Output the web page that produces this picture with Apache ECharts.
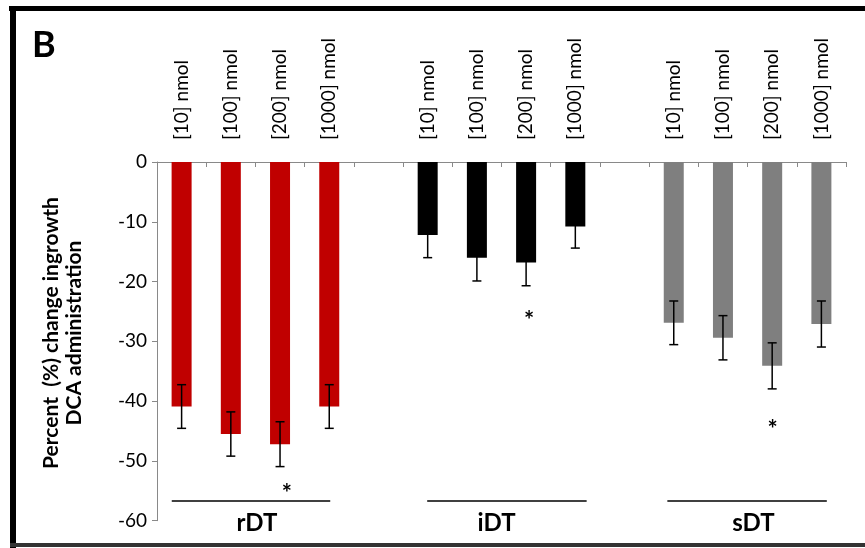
<!DOCTYPE html>
<html>
<head>
<meta charset="utf-8">
<script src="https://cdn.jsdelivr.net/npm/echarts@6/dist/echarts.min.js"></script>
<style>
html,body{margin:0;padding:0;background:#fff;}
#chart{width:865px;height:548px;}
</style>
</head>
<body>
<div id="chart"></div>
<script>
// ---- data ----
const categories = ['[10] nmol','[100] nmol','[200] nmol','[1000] nmol','',
                    '[10] nmol','[100] nmol','[200] nmol','[1000] nmol','',
                    '[10] nmol','[100] nmol','[200] nmol','[1000] nmol'];
const groupNames = ['rDT','iDT','sDT'];
const groupStart = [0, 5, 10];
const rDT = [-40.9, -45.5, -47.2, -40.9];
const iDT = [-12.2, -16.0, -16.8, -10.8];
const sDT = [-26.9, -29.4, -34.1, -27.1];
const rDTErr = [3.65, 3.7, 3.75, 3.65];
const iDTErr = [3.8, 3.9, 3.9, 3.6];
const sDTErr = [3.65, 3.7, 3.85, 3.85];
const yTicks = [0, -10, -20, -30, -40, -50, -60];
// annotations (in category-index / value units)
const groupLineFrom = [-0.2, 4.99, 9.87];
const groupLineTo = [3.02, 8.23, 13.11];
const groupLineValue = -56.7;
const groupLabelPos = [1.53, 6.40, 11.62];
const groupLabelValue = -60.4;
const starPos = [2.14, 7.06, 12.01];
const starValue = [-54.5, -25.7, -43.8];
const yTitle = 'Percent  (%) change ingrowth\nDCA administration';

// ---- build ----
const groupVals = [rDT, iDT, sDT];
const groupErrs = [rDTErr, iDTErr, sDTErr];
const groupColors = ['#C00000', '#000000', '#7F7F7F'];

function slotData(g){
  return categories.map((c, i) => {
    const k = i - groupStart[g];
    return (k >= 0 && k < groupVals[g].length) ? groupVals[g][k] : '-';
  });
}
const errData = [];
groupVals.forEach((vals, g) => vals.forEach((v, k) => errData.push([groupStart[g] + k, v, groupErrs[g][k]])));

const FONT = 'Lato, "Open Sans", sans-serif';
const chart = echarts.init(document.getElementById('chart'), null, {renderer: 'canvas'});

const series = groupNames.map((name, g) => ({
  name, type: 'bar', xAxisIndex: 0, yAxisIndex: 0,
  data: slotData(g), barWidth: 20, barGap: '-100%',
  itemStyle: {color: groupColors[g]}, silent: true, animation: false
}));

series.push({
  type: 'custom', xAxisIndex: 0, yAxisIndex: 0, data: errData, animation: false, silent: true, z: 10,
  renderItem(params, api){
    const x = api.value(0), v = api.value(1), e = api.value(2);
    const top = api.coord([x, v + e]);
    const bot = api.coord([x, v - e]);
    const cx = top[0], hw = 4.5;
    const st = {stroke: '#000', lineWidth: 1.5};
    return {type: 'group', children: [
      {type: 'line', shape: {x1: cx, y1: top[1], x2: cx, y2: bot[1]}, style: st},
      {type: 'line', shape: {x1: cx - hw, y1: top[1], x2: cx + hw, y2: top[1]}, style: st},
      {type: 'line', shape: {x1: cx - hw, y1: bot[1], x2: cx + hw, y2: bot[1]}, style: st}
    ]};
  }
});

series.push({
  type: 'custom', xAxisIndex: 1, yAxisIndex: 0, clip: false, animation: false, silent: true,
  data: groupNames.map((n, g) => [groupLineFrom[g], groupLineTo[g], groupLineValue]),
  renderItem(params, api){
    const a = api.coord([api.value(0), api.value(2)]);
    const b = api.coord([api.value(1), api.value(2)]);
    return {type: 'line', shape: {x1: a[0], y1: a[1], x2: b[0], y2: b[1]}, style: {stroke: '#000', lineWidth: 1.5}};
  }
});

series.push({
  type: 'custom', xAxisIndex: 1, yAxisIndex: 0, clip: false, animation: false, silent: true,
  data: groupNames.map((n, g) => [groupLabelPos[g], groupLabelValue, g]),
  renderItem(params, api){
    const p = api.coord([api.value(0), api.value(1)]);
    return {type: 'text', x: p[0], y: p[1], style: {text: groupNames[api.value(2)], fill: '#000',
      font: 'bold 24px ' + FONT, textAlign: 'center', textVerticalAlign: 'middle'}};
  }
});

series.push({
  type: 'custom', xAxisIndex: 1, yAxisIndex: 0, clip: false, animation: false, silent: true,
  data: starPos.map((x, i) => [x, starValue[i]]),
  renderItem(params, api){
    const p = api.coord([api.value(0), api.value(1)]);
    return {type: 'text', x: p[0], y: p[1] + 6, style: {text: '*', fill: '#000',
      font: 'bold 24px ' + FONT, textAlign: 'center', textVerticalAlign: 'middle'}};
  }
});

chart.setOption({
  animation: false,
  backgroundColor: '#fff',
  grid: {left: 157, right: 19, top: 162, bottom: 27.3, containLabel: false},
  xAxis: [{
    type: 'category', position: 'top', data: categories,
    axisLine: {show: true, onZero: false, lineStyle: {color: '#898989', width: 1}},
    axisTick: {show: true, inside: true, length: 5, interval: 0, lineStyle: {color: '#898989'}},
    axisLabel: {interval: 0, rotate: -90, margin: 22, color: '#000', fontFamily: FONT, fontSize: 19},
    splitLine: {show: false}
  }, {
    type: 'value', min: -0.5, max: 13.5, show: false, position: 'bottom',
    axisLine: {onZero: false}
  }],
  yAxis: {
    type: 'value', min: yTicks[yTicks.length - 1], max: yTicks[0], interval: 10,
    axisLine: {show: true, onZero: false, lineStyle: {color: '#898989', width: 1}},
    axisTick: {show: true, length: 5, lineStyle: {color: '#898989'}},
    axisLabel: {margin: 10, color: '#000', fontFamily: FONT, fontSize: 19},
    splitLine: {show: false}
  },
  graphic: [
    {type: 'rect', shape: {x: 9, y: 6, width: 856, height: 5}, style: {fill: '#000'}},
    {type: 'rect', shape: {x: 10, y: 6, width: 6, height: 542}, style: {fill: '#000'}},
    {type: 'rect', shape: {x: 10, y: 543, width: 855, height: 4}, style: {fill: '#333'}},
    {type: 'text', x: 32, y: 45, style: {text: 'B', font: 'bold 36px ' + FONT, fill: '#000', textAlign: 'left', textVerticalAlign: 'middle'}},
    {type: 'text', x: 63, y: 333, rotation: Math.PI / 2,
     style: {text: yTitle, font: 'bold 21px ' + FONT, lineHeight: 23, fill: '#000', textAlign: 'center', textVerticalAlign: 'middle'}}
  ],
  series
});
</script>
</body>
</html>
